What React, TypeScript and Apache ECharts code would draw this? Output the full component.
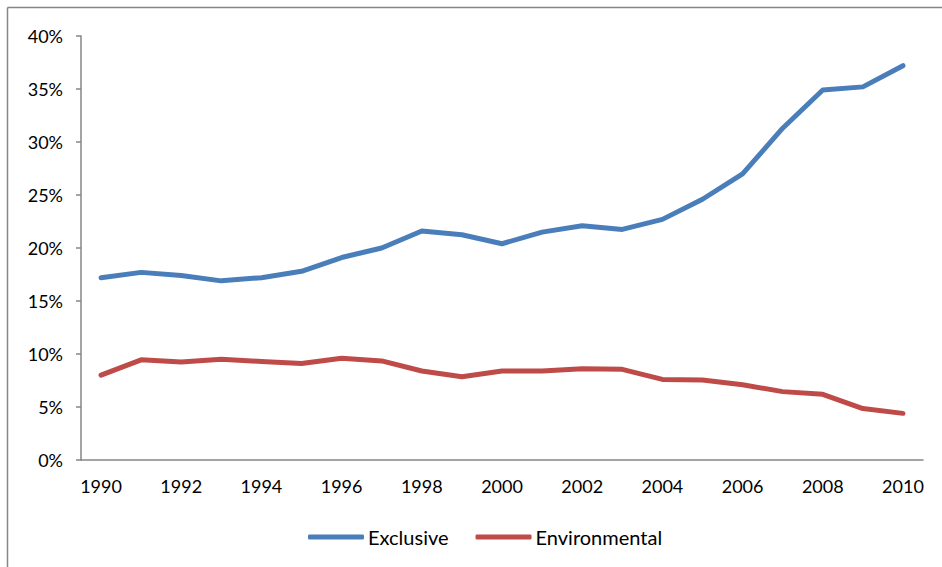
import React, { useEffect, useRef } from "react";
import * as echarts from "echarts";

const years = [
  "1990", "1991", "1992", "1993", "1994", "1995", "1996", "1997", "1998", "1999", "2000",
  "2001", "2002", "2003", "2004", "2005", "2006", "2007", "2008", "2009", "2010",
];

const exclusive = [
  17.2, 17.7, 17.4, 16.9, 17.2, 17.8, 19.1, 20.0, 21.6, 21.25, 20.4,
  21.5, 22.1, 21.75, 22.7, 24.6, 27.0, 31.3, 34.9, 35.2, 37.2,
];

const environmental = [
  8.0, 9.45, 9.25, 9.5, 9.3, 9.1, 9.6, 9.35, 8.4, 7.85, 8.4,
  8.4, 8.6, 8.55, 7.6, 7.55, 7.1, 6.45, 6.2, 4.85, 4.4,
];

const seriesNames = ["Exclusive", "Environmental"];
const colors = ["#4a7ebb", "#be4b48"];

export default function App() {
  const ref = useRef<HTMLDivElement>(null);

  useEffect(() => {
    if (!ref.current) return;
    const chart = echarts.init(ref.current, null, { renderer: "svg" });
    const font = "Lato";
    chart.setOption({
      animation: false,
      backgroundColor: "#ffffff",
      textStyle: { fontFamily: font },
      grid: { left: 81, right: 19, top: 36, bottom: 107, containLabel: false },
      legend: {
        left: 303,
        top: 522,
        icon: "roundRect",
        itemWidth: 56,
        itemHeight: 5,
        itemGap: 27,
        textStyle: { fontFamily: font, fontSize: 20, color: "#000000", padding: [0, 0, 0, -1] },
        data: seriesNames,
      },
      xAxis: {
        type: "category",
        data: years,
        boundaryGap: true,
        axisLine: { lineStyle: { color: "#868686", width: 1.5 } },
        axisTick: { interval: 0, length: 6, lineStyle: { color: "#868686", width: 1.5 } },
        axisLabel: { interval: 1, margin: 17, fontSize: 18, color: "#000000", fontFamily: font },
        splitLine: { show: false },
      },
      yAxis: {
        type: "value",
        min: 0,
        max: 40,
        interval: 5,
        axisLine: { show: true, lineStyle: { color: "#868686", width: 1.5 } },
        axisTick: { show: true, length: 5, lineStyle: { color: "#868686", width: 1.5 } },
        axisLabel: { formatter: "{value}%", margin: 18, fontSize: 18, color: "#000000", fontFamily: font },
        splitLine: { show: false },
      },
      series: [
        {
          name: seriesNames[0],
          type: "line",
          data: exclusive,
          symbol: "none",
          color: colors[0],
          lineStyle: { width: 5, color: colors[0], cap: "round", join: "round" },
        },
        {
          name: seriesNames[1],
          type: "line",
          data: environmental,
          symbol: "none",
          color: colors[1],
          lineStyle: { width: 5, color: colors[1], cap: "round", join: "round" },
        },
      ],
      graphic: [
        { type: "line", shape: { x1: 7.5, y1: 7.5, x2: 942, y2: 7.5 }, style: { stroke: "#868686", lineWidth: 1.5 }, silent: true },
        { type: "line", shape: { x1: 7.5, y1: 7.5, x2: 7.5, y2: 567 }, style: { stroke: "#868686", lineWidth: 1.5 }, silent: true },
      ],
    });
    return () => chart.dispose();
  }, []);

  return (
    <div
      ref={ref}
      style={{ position: "fixed", left: 0, top: 0, width: 942, height: 567, background: "#fff" }}
    />
  );
}
